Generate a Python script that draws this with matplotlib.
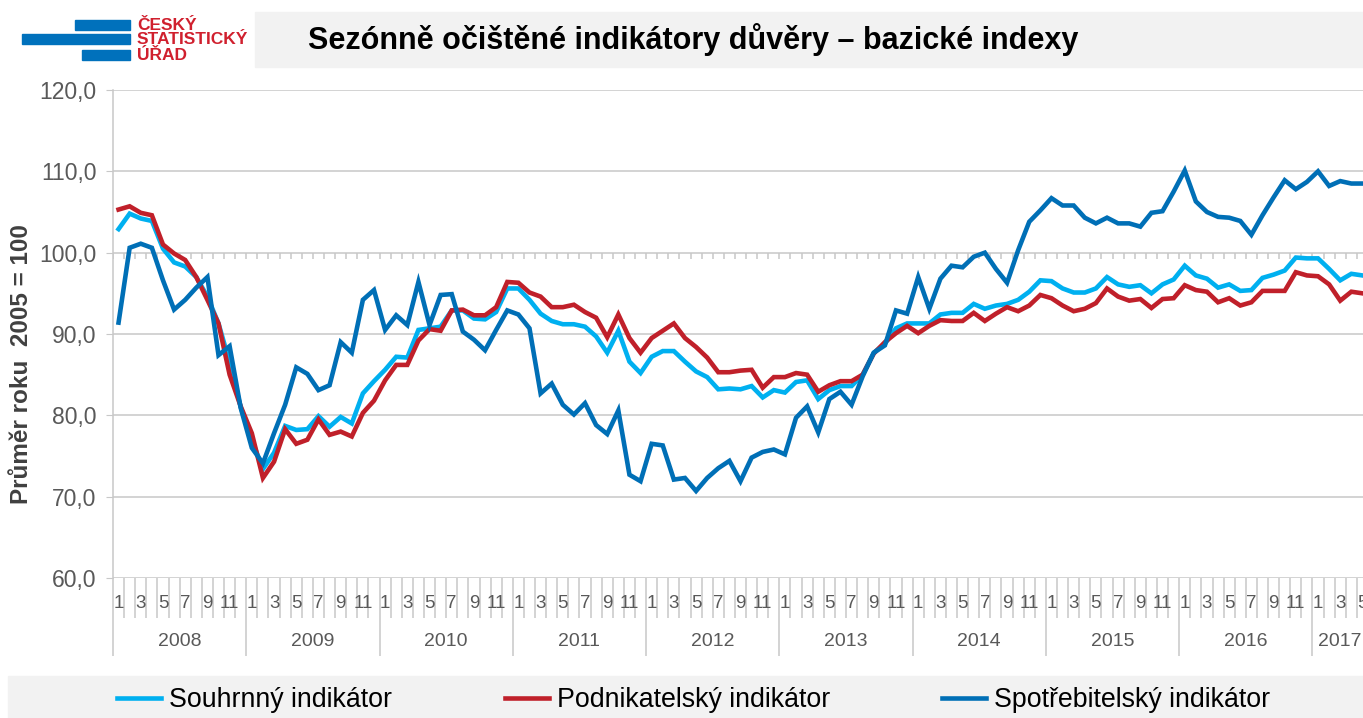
import matplotlib
matplotlib.use('Agg')
from matplotlib import pyplot as plt
from matplotlib.patches import Rectangle

plt.rcParams['font.family'] = ['Liberation Sans', 'DejaVu Sans']

# data: monthly values 2008/1 .. 2017/5
years = [2008, 2009, 2010, 2011, 2012, 2013, 2014, 2015, 2016, 2017]
months_in_year = [12, 12, 12, 12, 12, 12, 12, 12, 12, 5]

souhrnny = [
    102.9, 104.8, 104.2, 103.9, 100.5, 98.8, 98.3, 97.0, 94.6, 91.3, 86.5, 81.0,
    77.0, 73.4, 75.4, 78.7, 78.2, 78.3, 79.9, 78.6, 79.8, 79.0, 82.7, 84.2,
    85.6, 87.2, 87.1, 90.5, 90.7, 90.9, 92.9, 92.9, 91.9, 91.8, 92.7, 95.6,
    95.6, 94.2, 92.5, 91.6, 91.2, 91.2, 90.9, 89.7, 87.7, 90.4, 86.6, 85.2,
    87.2, 87.9, 87.9, 86.6, 85.4, 84.7, 83.2, 83.3, 83.2, 83.6, 82.2, 83.1,
    82.8, 84.1, 84.3, 82.0, 83.1, 83.6, 83.6, 85.0, 87.7, 88.8, 90.7, 91.3,
    91.3, 91.3, 92.4, 92.6, 92.6, 93.7, 93.1, 93.5, 93.7, 94.2, 95.2, 96.6,
    96.5, 95.6, 95.1, 95.1, 95.6, 97.0, 96.1, 95.8, 96.0, 95.0, 96.1, 96.7,
    98.4, 97.2, 96.8, 95.7, 96.1, 95.3, 95.4, 96.9, 97.3, 97.8, 99.4, 99.3,
    99.3, 98.0, 96.6, 97.4, 97.2,
]
podnikatelsky = [
    105.3, 105.7, 104.9, 104.6, 101.0, 99.9, 99.1, 97.0, 94.2, 91.3, 85.0, 81.1,
    77.8, 72.3, 74.3, 78.3, 76.5, 77.0, 79.5, 77.6, 78.0, 77.4, 80.3, 81.8,
    84.3, 86.2, 86.2, 89.2, 90.6, 90.4, 92.9, 93.0, 92.3, 92.3, 93.3, 96.4,
    96.3, 95.1, 94.6, 93.3, 93.3, 93.6, 92.7, 92.0, 89.6, 92.4, 89.5, 87.7,
    89.5, 90.4, 91.3, 89.5, 88.4, 87.1, 85.3, 85.3, 85.5, 85.6, 83.4, 84.7,
    84.7, 85.2, 85.0, 82.9, 83.7, 84.2, 84.2, 85.0, 87.6, 89.0, 90.1, 91.0,
    90.1, 91.0, 91.7, 91.6, 91.6, 92.6, 91.6, 92.5, 93.3, 92.8, 93.5, 94.8,
    94.4, 93.5, 92.8, 93.1, 93.8, 95.6, 94.6, 94.1, 94.3, 93.2, 94.3, 94.4,
    96.0, 95.4, 95.2, 93.9, 94.4, 93.5, 93.9, 95.3, 95.3, 95.3, 97.6, 97.2,
    97.1, 96.1, 94.1, 95.2, 95.0,
]
spotrebitelsky = [
    91.4, 100.6, 101.1, 100.6, 96.6, 93.0, 94.2, 95.7, 97.0, 87.4, 88.5, 80.9,
    76.0, 74.1, 77.8, 81.3, 85.9, 85.1, 83.1, 83.7, 89.0, 87.7, 94.2, 95.4,
    90.5, 92.3, 91.1, 96.4, 91.1, 94.8, 94.9, 90.3, 89.3, 88.0, 90.5, 92.9,
    92.4, 90.7, 82.7, 83.9, 81.3, 80.1, 81.5, 78.8, 77.7, 80.6, 72.7, 71.9,
    76.5, 76.3, 72.1, 72.3, 70.7, 72.3, 73.5, 74.4, 71.9, 74.8, 75.5, 75.8,
    75.2, 79.7, 81.1, 77.9, 82.0, 82.9, 81.3, 84.8, 87.7, 88.6, 92.9, 92.5,
    97.0, 93.1, 96.8, 98.4, 98.2, 99.5, 100.0, 98.0, 96.3, 100.3, 103.8, 105.2,
    106.7, 105.8, 105.8, 104.3, 103.6, 104.3, 103.6, 103.6, 103.2, 104.9, 105.1, 107.5,
    110.1, 106.3, 105.0, 104.4, 104.3, 103.9, 102.2, 104.6, 106.8, 108.9, 107.8, 108.7,
    110.0, 108.2, 108.8, 108.5, 108.5,
]
series_names = ['Souhrnný indikátor', 'Podnikatelský indikátor', 'Spotřebitelský indikátor']
series_colors = ['#00B0F0', '#C0202A', '#006FB6']

title = 'Sezónně očištěné indikátory důvěry – bazické indexy'
ylabel = 'Průměr roku  2005 = 100'

# month index and labels
month_num = [m + 1 for n in months_in_year for m in range(n)]
x = list(range(len(month_num)))
n = len(x)

W, H = 1363, 718
fig = plt.figure(figsize=(W / 100, H / 100), dpi=100)

# header: logo + title bar
fig.patches.append(Rectangle((255 / W, 1 - 67 / H), 1 - 255 / W, 55 / H,
                             transform=fig.transFigure, color='#F2F2F2', zorder=0))
for (x0, x1, yt, yb) in [(75, 130, 20, 30), (22, 130, 34, 44), (82, 130, 50, 60)]:
    fig.patches.append(Rectangle((x0 / W, 1 - yb / H), (x1 - x0) / W, (yb - yt) / H,
                                 transform=fig.transFigure, color='#0071BC'))
for txt, yy in [('ČESKÝ', 25), ('STATISTICKÝ', 40), ('ÚŘAD', 55)]:
    fig.text(137 / W, 1 - yy / H, txt, color='#D0202E', fontsize=12.5,
             fontweight='bold', va='center', ha='left')
fig.text(308 / W, 1 - 40 / H, title, fontsize=22, fontweight='bold',
         va='center', ha='left', color='black')

# legend bar
fig.patches.append(Rectangle((8 / W, 0), 1 - 8 / W, (H - 676) / H,
                             transform=fig.transFigure, color='#F2F2F2', zorder=0))

# y axis title
fig.text(22 / W, 1 - 364 / H, ylabel, rotation=90, ha='center', va='center',
         fontsize=17.5, fontweight='bold', color='#404040')

# plot area
left, right, top, bottom = 113, 1368, 90, 578
ax = fig.add_axes([left / W, 1 - bottom / H, (right - left) / W, (bottom - top) / H])
ax.set_xlim(-0.5, n - 0.5)
ax.set_ylim(60, 120)

lines = []
for vals, name, col in zip([souhrnny, podnikatelsky, spotrebitelsky], series_names, series_colors):
    ln, = ax.plot(x, vals, color=col, lw=3.3, label=name, solid_joinstyle='miter', zorder=3)
    lines.append(ln)

grid_col = '#C8C8C8'
ax.set_yticks([60, 70, 80, 90, 100, 110, 120])
ax.set_yticklabels(['60,0', '70,0', '80,0', '90,0', '100,0', '110,0', '120,0'])
ax.yaxis.grid(True, color=grid_col, lw=1.1)
ax.set_axisbelow(True)
ax.tick_params(axis='y', length=5, color=grid_col, labelsize=16.5, labelcolor='#595959', pad=7)
for s in ['top', 'right', 'bottom']:
    ax.spines[s].set_visible(False)
ax.spines['left'].set_color(grid_col)
ax.spines['left'].set_linewidth(1.1)

# horizontal axis crosses at 100: small ticks under that line
bounds = [i - 0.5 for i in range(n + 1)]
ax.vlines(bounds, 99.28, 100, color=grid_col, lw=1.1, zorder=1)

# category axis below: month separators (minor) and year separators (major)
starts = [sum(months_in_year[:k]) for k in range(len(years))]
year_bounds = [s - 0.5 for s in starts]
ax.set_xticks(year_bounds)
ax.set_xticklabels([])
ax.set_xticks(bounds, minor=True)
ax.tick_params(axis='x', which='major', length=56, width=1.1, color=grid_col)
ax.tick_params(axis='x', which='minor', length=28.5, width=1.1, color=grid_col)

tr = ax.get_xaxis_transform()
for i, m in zip(x, month_num):
    if m % 2 == 1:
        ax.text(i, -0.052, str(m), transform=tr, ha='center', va='center',
                fontsize=13.5, color='#595959', clip_on=False)
for yr, s, k in zip(years, starts, months_in_year):
    ax.text(s + (k - 1) / 2, -0.13, str(yr), transform=tr, ha='center', va='center',
            fontsize=14, color='#595959', clip_on=False)

fig.legend(handles=lines, loc='center left', bbox_to_anchor=(117 / W, 1 - 700 / H),
           ncol=3, frameon=False, fontsize=19.3, handlelength=1.64,
           handletextpad=0.3, columnspacing=4.2, borderaxespad=0, borderpad=0)

fig.savefig('out.png', dpi=100)
